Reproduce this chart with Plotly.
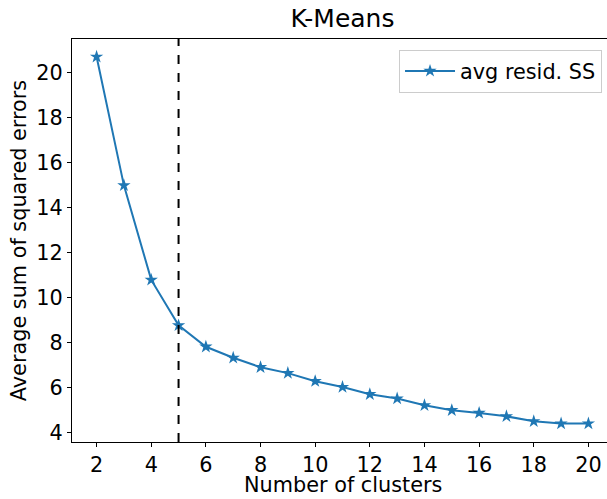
import plotly.graph_objects as go

clusters = list(range(2, 21))
avg_resid_ss = [20.71, 15.0, 10.8, 8.78, 7.83, 7.34, 6.92, 6.66, 6.30, 6.04,
                5.72, 5.53, 5.23, 5.01, 4.89, 4.74, 4.52, 4.42, 4.42]
elbow_k = 5
x_ticks = list(range(2, 21, 2))
y_ticks = list(range(4, 21, 2))
x_title = "Number of clusters"
y_title = "Average sum of squared errors"

blue = "#1f77b4"
font = "DejaVu Sans, Arial, sans-serif"
fs = 20.8

fig = go.Figure()
fig.add_trace(go.Scatter(
    x=clusters, y=avg_resid_ss, mode="lines+markers", name="avg resid. SS",
    line=dict(color=blue, width=2),
    marker=dict(symbol="star", size=10, color=blue),
))
fig.add_shape(type="line", x0=elbow_k, x1=elbow_k, xref="x", y0=0, y1=1, yref="paper",
              line=dict(color="black", width=2, dash="dash"))

axis_common = dict(showline=True, linecolor="black", linewidth=1, mirror=True,
                   ticks="outside", ticklen=4, tickwidth=1, tickcolor="black",
                   showgrid=False, zeroline=False, automargin=False,
                   tickfont=dict(family=font, size=fs, color="black"))

# The reference is cropped on the right: the axes box extends past the 607px window.
fig.update_layout(
    width=614, height=499,
    margin=dict(l=72, r=1, t=39, b=57),
    paper_bgcolor="white", plot_bgcolor="white",
    font=dict(family=font, color="black"),
    title=dict(text="K-Means", xref="paper", x=0.5, xanchor="center", y=0.964, yanchor="middle",
               font=dict(family=font, size=25, color="black")),
    xaxis=dict(range=[1.1, 20.9], tickvals=x_ticks, **axis_common),
    yaxis=dict(range=[3.6, 21.5], tickvals=y_ticks,
               title=dict(text=y_title, font=dict(family=font, size=fs), standoff=4),
               **axis_common),
    legend=dict(x=0.9797, xanchor="right", y=0.973, yanchor="top",
                bgcolor="white", bordercolor="#cccccc", borderwidth=1,
                itemwidth=50,
                font=dict(family=font, size=fs, color="black")),
    showlegend=True,
)
fig.add_annotation(text=x_title, xref="paper", yref="paper", x=0.5, y=-0.1067,
                   xanchor="center", yanchor="middle", showarrow=False, borderpad=0,
                   font=dict(family=font, size=fs, color="black"))

fig.write_html("out.html", config={"displayModeBar": False},
               post_script="document.body.style.margin='0';document.body.style.overflow='hidden';document.documentElement.style.overflow='hidden';")
